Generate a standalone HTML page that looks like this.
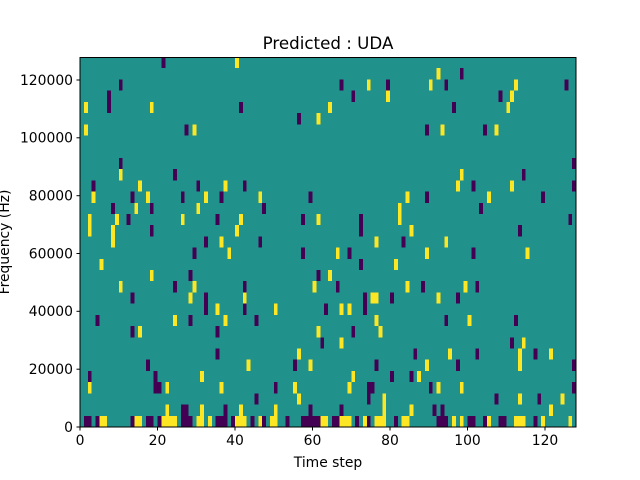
<!DOCTYPE html>
<html><head><meta charset="utf-8"><style>html,body{margin:0;padding:0;background:#fff}svg{display:block}</style></head>
<body>
<svg width="640" height="480" xmlns="http://www.w3.org/2000/svg" font-family="DejaVu Sans, Liberation Sans, sans-serif">
<rect width="640" height="480" fill="#fff"/>
<svg x="80" y="57" width="496" height="370" viewBox="0 0 128 33" preserveAspectRatio="none" shape-rendering="crispEdges">
<rect x="0" y="0" width="128" height="33" fill="#21918c"/>
<g fill="#440154">
<rect x="21" y="0" width="1" height="1"/><rect x="10" y="2" width="1" height="1"/><rect x="7" y="3" width="1" height="2"/>
<rect x="27" y="6" width="1" height="1"/><rect x="10" y="9" width="1" height="1"/><rect x="24" y="10" width="1" height="1"/>
<rect x="3" y="11" width="1" height="1"/><rect x="30" y="11" width="1" height="1"/><rect x="13" y="12" width="1" height="1"/>
<rect x="26" y="12" width="1" height="1"/><rect x="8" y="13" width="1" height="1"/><rect x="18" y="13" width="1" height="1"/>
<rect x="12" y="14" width="1" height="1"/><rect x="18" y="15" width="1" height="1"/><rect x="29" y="17" width="1" height="1"/>
<rect x="28" y="19" width="1" height="1"/><rect x="24" y="20" width="1" height="1"/><rect x="13" y="21" width="1" height="1"/>
<rect x="4" y="23" width="1" height="1"/><rect x="28" y="23" width="1" height="1"/><rect x="13" y="24" width="1" height="1"/>
<rect x="17" y="27" width="1" height="1"/><rect x="2" y="28" width="1" height="1"/><rect x="19" y="28" width="1" height="2"/>
<rect x="20" y="29" width="1" height="1"/><rect x="26" y="31" width="2" height="1"/>
<rect x="1" y="32" width="2" height="1"/><rect x="4" y="32" width="1" height="1"/><rect x="13" y="32" width="1" height="1"/>
<rect x="17" y="32" width="2" height="1"/><rect x="20" y="32" width="1" height="1"/><rect x="26" y="32" width="3" height="1"/>
<rect x="41" y="4" width="1" height="1"/><rect x="56" y="5" width="1" height="1"/><rect x="42" y="11" width="1" height="1"/>
<rect x="36" y="12" width="1" height="1"/><rect x="59" y="12" width="1" height="1"/><rect x="47" y="13" width="1" height="1"/>
<rect x="35" y="14" width="1" height="1"/><rect x="57" y="14" width="1" height="1"/><rect x="32" y="16" width="1" height="1"/>
<rect x="46" y="16" width="1" height="1"/><rect x="57" y="17" width="1" height="1"/><rect x="61" y="19" width="1" height="1"/>
<rect x="42" y="20" width="1" height="1"/><rect x="32" y="21" width="1" height="2"/><rect x="42" y="22" width="1" height="1"/>
<rect x="63" y="22" width="1" height="1"/><rect x="45" y="23" width="1" height="1"/><rect x="35" y="24" width="1" height="1"/>
<rect x="62" y="25" width="1" height="1"/><rect x="35" y="26" width="1" height="1"/><rect x="55" y="27" width="1" height="1"/>
<rect x="50" y="29" width="1" height="1"/><rect x="45" y="30" width="1" height="1"/><rect x="37" y="31" width="1" height="1"/>
<rect x="59" y="31" width="1" height="1"/>
<rect x="35" y="32" width="3" height="1"/><rect x="39" y="32" width="1" height="1"/><rect x="44" y="32" width="1" height="1"/>
<rect x="47" y="32" width="1" height="1"/><rect x="53" y="32" width="1" height="1"/><rect x="57" y="32" width="5" height="1"/>
<rect x="67" y="2" width="1" height="1"/><rect x="79" y="2" width="1" height="1"/><rect x="94" y="2" width="1" height="1"/>
<rect x="70" y="3" width="1" height="1"/><rect x="89" y="6" width="1" height="1"/><rect x="89" y="12" width="1" height="1"/>
<rect x="72" y="14" width="1" height="2"/><rect x="83" y="16" width="1" height="1"/><rect x="69" y="17" width="1" height="1"/>
<rect x="72" y="18" width="1" height="1"/><rect x="66" y="20" width="1" height="1"/><rect x="88" y="20" width="1" height="1"/>
<rect x="73" y="21" width="1" height="2"/><rect x="80" y="21" width="1" height="1"/><rect x="94" y="23" width="1" height="1"/>
<rect x="70" y="24" width="1" height="1"/><rect x="86" y="26" width="1" height="1"/><rect x="76" y="27" width="1" height="1"/>
<rect x="80" y="28" width="1" height="1"/><rect x="85" y="28" width="1" height="1"/><rect x="74" y="29" width="2" height="1"/>
<rect x="74" y="30" width="1" height="1"/><rect x="90" y="29" width="1" height="1"/><rect x="67" y="31" width="1" height="1"/>
<rect x="91" y="31" width="1" height="1"/><rect x="93" y="31" width="1" height="1"/>
<rect x="65" y="32" width="2" height="1"/><rect x="71" y="32" width="1" height="1"/><rect x="74" y="32" width="1" height="1"/>
<rect x="81" y="32" width="1" height="1"/><rect x="92" y="32" width="3" height="1"/>
<rect x="98" y="1" width="1" height="1"/><rect x="125" y="2" width="1" height="1"/><rect x="108" y="3" width="1" height="1"/>
<rect x="96" y="4" width="1" height="1"/><rect x="104" y="6" width="1" height="1"/><rect x="127" y="9" width="1" height="1"/>
<rect x="114" y="10" width="1" height="1"/><rect x="101" y="11" width="1" height="1"/><rect x="127" y="11" width="1" height="1"/>
<rect x="119" y="12" width="1" height="1"/><rect x="103" y="13" width="1" height="1"/><rect x="126" y="14" width="1" height="1"/>
<rect x="113" y="15" width="1" height="1"/><rect x="101" y="17" width="1" height="1"/><rect x="102" y="20" width="1" height="1"/>
<rect x="97" y="21" width="1" height="1"/><rect x="112" y="23" width="1" height="1"/><rect x="111" y="25" width="1" height="1"/>
<rect x="102" y="26" width="1" height="1"/><rect x="117" y="26" width="1" height="1"/><rect x="97" y="27" width="1" height="1"/>
<rect x="127" y="27" width="1" height="1"/><rect x="127" y="29" width="1" height="1"/><rect x="107" y="30" width="1" height="1"/>
<rect x="118" y="30" width="1" height="1"/>
<rect x="100" y="32" width="2" height="1"/><rect x="104" y="32" width="1" height="1"/><rect x="108" y="32" width="2" height="1"/>
<rect x="117" y="32" width="1" height="1"/>
</g>
<g fill="#fde725">
<rect x="1" y="4" width="1" height="1"/><rect x="18" y="4" width="1" height="1"/><rect x="1" y="6" width="1" height="1"/>
<rect x="29" y="6" width="1" height="1"/><rect x="10" y="10" width="1" height="1"/><rect x="15" y="11" width="1" height="1"/>
<rect x="3" y="12" width="1" height="1"/><rect x="17" y="12" width="1" height="1"/><rect x="14" y="13" width="1" height="1"/>
<rect x="30" y="13" width="1" height="1"/><rect x="2" y="14" width="1" height="2"/><rect x="9" y="14" width="1" height="1"/>
<rect x="26" y="14" width="1" height="1"/><rect x="8" y="15" width="1" height="2"/><rect x="5" y="18" width="1" height="1"/>
<rect x="18" y="19" width="1" height="1"/><rect x="10" y="20" width="1" height="1"/><rect x="29" y="20" width="1" height="1"/>
<rect x="28" y="21" width="1" height="1"/><rect x="24" y="23" width="1" height="1"/><rect x="15" y="24" width="1" height="1"/>
<rect x="31" y="28" width="1" height="1"/><rect x="2" y="29" width="1" height="1"/><rect x="22" y="29" width="1" height="1"/>
<rect x="22" y="31" width="1" height="1"/><rect x="31" y="31" width="1" height="1"/>
<rect x="5" y="32" width="2" height="1"/><rect x="14" y="32" width="2" height="1"/><rect x="21" y="32" width="4" height="1"/>
<rect x="30" y="32" width="2" height="1"/>
<rect x="40" y="0" width="1" height="1"/><rect x="61" y="5" width="1" height="1"/><rect x="37" y="11" width="1" height="1"/>
<rect x="32" y="12" width="1" height="1"/><rect x="46" y="12" width="1" height="1"/><rect x="41" y="14" width="1" height="1"/>
<rect x="61" y="14" width="1" height="1"/><rect x="40" y="15" width="1" height="1"/><rect x="36" y="16" width="1" height="1"/>
<rect x="38" y="17" width="1" height="1"/><rect x="60" y="20" width="1" height="1"/><rect x="42" y="21" width="1" height="1"/>
<rect x="35" y="22" width="1" height="1"/><rect x="50" y="22" width="1" height="1"/><rect x="37" y="23" width="1" height="1"/>
<rect x="61" y="24" width="1" height="1"/><rect x="56" y="26" width="1" height="1"/><rect x="43" y="27" width="1" height="1"/>
<rect x="59" y="27" width="1" height="1"/><rect x="36" y="29" width="1" height="1"/><rect x="55" y="29" width="1" height="1"/>
<rect x="56" y="30" width="1" height="1"/><rect x="41" y="31" width="1" height="1"/><rect x="50" y="31" width="1" height="1"/>
<rect x="33" y="32" width="1" height="1"/><rect x="40" y="32" width="3" height="1"/><rect x="46" y="32" width="1" height="1"/>
<rect x="49" y="32" width="2" height="1"/><rect x="62" y="32" width="2" height="1"/>
<rect x="92" y="1" width="1" height="1"/><rect x="74" y="2" width="1" height="1"/><rect x="90" y="2" width="1" height="1"/>
<rect x="79" y="3" width="1" height="1"/><rect x="64" y="4" width="1" height="1"/><rect x="93" y="6" width="1" height="1"/>
<rect x="84" y="12" width="1" height="1"/><rect x="82" y="13" width="1" height="2"/><rect x="85" y="15" width="1" height="1"/>
<rect x="76" y="16" width="1" height="1"/><rect x="94" y="16" width="1" height="1"/><rect x="66" y="17" width="1" height="1"/>
<rect x="89" y="17" width="1" height="1"/><rect x="81" y="18" width="1" height="1"/><rect x="64" y="19" width="1" height="1"/>
<rect x="84" y="20" width="1" height="1"/><rect x="75" y="21" width="2" height="1"/><rect x="92" y="21" width="1" height="1"/>
<rect x="67" y="22" width="1" height="1"/><rect x="69" y="22" width="1" height="1"/><rect x="76" y="23" width="1" height="1"/>
<rect x="77" y="24" width="1" height="1"/><rect x="67" y="25" width="1" height="1"/><rect x="95" y="26" width="1" height="1"/>
<rect x="89" y="27" width="1" height="1"/><rect x="70" y="28" width="1" height="1"/><rect x="87" y="28" width="1" height="1"/>
<rect x="69" y="29" width="1" height="1"/><rect x="92" y="29" width="1" height="1"/><rect x="78" y="30" width="1" height="2"/>
<rect x="85" y="31" width="1" height="1"/>
<rect x="67" y="32" width="3" height="1"/><rect x="73" y="32" width="1" height="1"/><rect x="76" y="32" width="3" height="1"/>
<rect x="83" y="32" width="2" height="1"/>
<rect x="112" y="2" width="1" height="1"/><rect x="111" y="3" width="1" height="1"/><rect x="110" y="4" width="1" height="1"/>
<rect x="107" y="6" width="1" height="1"/><rect x="98" y="10" width="1" height="1"/><rect x="97" y="11" width="1" height="1"/>
<rect x="111" y="11" width="1" height="1"/><rect x="105" y="12" width="1" height="1"/><rect x="115" y="17" width="1" height="1"/>
<rect x="99" y="20" width="1" height="1"/><rect x="100" y="23" width="1" height="1"/><rect x="114" y="25" width="1" height="1"/>
<rect x="113" y="26" width="1" height="2"/><rect x="121" y="26" width="1" height="1"/><rect x="98" y="29" width="1" height="1"/>
<rect x="113" y="30" width="1" height="1"/><rect x="124" y="30" width="1" height="1"/><rect x="121" y="31" width="1" height="1"/>
<rect x="96" y="32" width="1" height="1"/><rect x="98" y="32" width="1" height="1"/><rect x="105" y="32" width="1" height="1"/>
<rect x="112" y="32" width="3" height="1"/><rect x="119" y="32" width="1" height="1"/><rect x="126" y="32" width="1" height="1"/>
</g>
</svg>
<rect x="80" y="57.5" width="496" height="369.5" fill="none" stroke="#000" stroke-width="1"/>
<g stroke="#000" stroke-width="1">
<line x1="80" y1="427" x2="80" y2="430.5"/><line x1="157.5" y1="427" x2="157.5" y2="430.5"/><line x1="235" y1="427" x2="235" y2="430.5"/>
<line x1="312.5" y1="427" x2="312.5" y2="430.5"/><line x1="390" y1="427" x2="390" y2="430.5"/><line x1="467.5" y1="427" x2="467.5" y2="430.5"/>
<line x1="545" y1="427" x2="545" y2="430.5"/>
<line x1="76.5" y1="427" x2="80" y2="427"/><line x1="76.5" y1="369.2" x2="80" y2="369.2"/><line x1="76.5" y1="311.3" x2="80" y2="311.3"/>
<line x1="76.5" y1="253.5" x2="80" y2="253.5"/><line x1="76.5" y1="195.7" x2="80" y2="195.7"/><line x1="76.5" y1="137.8" x2="80" y2="137.8"/>
<line x1="76.5" y1="80" x2="80" y2="80"/>
</g>
<g font-size="13.9" fill="#000" text-anchor="middle">
<text x="80" y="445">0</text><text x="157.5" y="445">20</text><text x="235" y="445">40</text><text x="312.5" y="445">60</text>
<text x="390" y="445">80</text><text x="467.5" y="445">100</text><text x="545" y="445">120</text>
</g>
<g font-size="13.9" fill="#000" text-anchor="end">
<text x="73" y="432">0</text><text x="73" y="374">20000</text><text x="73" y="316">40000</text><text x="73" y="258.5">60000</text>
<text x="73" y="200.5">80000</text><text x="73" y="142.5">100000</text><text x="73" y="85">120000</text>
</g>
<text x="328" y="467" font-size="13.9" text-anchor="middle">Time step</text>
<text transform="translate(9,242) rotate(-90)" font-size="13.9" text-anchor="middle">Frequency (Hz)</text>
<text x="328" y="49" font-size="16.7" text-anchor="middle">Predicted : UDA</text>
</svg>
</body></html>
